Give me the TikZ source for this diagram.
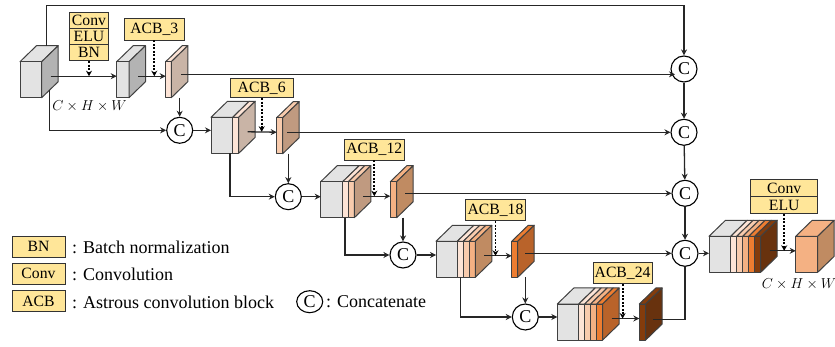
\documentclass[tikz,border=0pt]{standalone}
\usepackage{fontspec}
\setmainfont{Liberation Serif}
\usetikzlibrary{arrows.meta,shapes.geometric}
\definecolor{tagfill}{RGB}{255,230,153}
\definecolor{frontgrey}{RGB}{227,227,227}
\definecolor{sidegrey}{RGB}{179,179,179}
\definecolor{peachA}{RGB}{253,228,214}
\definecolor{peachB}{RGB}{248,203,173}
\definecolor{peachC}{RGB}{244,177,131}
\definecolor{orangeD}{RGB}{237,125,49}
\definecolor{brownE}{RGB}{132,60,12}
\definecolor{sideA}{RGB}{201,180,166}
\definecolor{sideB}{RGB}{192,154,128}
\definecolor{sideC}{RGB}{192,139,98}
\definecolor{sideD}{RGB}{185,99,42}
\definecolor{sideE}{RGB}{104,50,14}
\tikzset{
  link/.style={draw=black!85,line width=1.3pt,-{Stealth[length=6pt,width=6pt]}},
  plainlink/.style={draw=black!85,line width=1.3pt},
  dotlink/.style={draw=black,line width=1.9pt,dash pattern={on 1.9pt off 1.6pt},-{Stealth[length=5.5pt,width=6pt]}},
  cubeedge/.style={draw=black!75,line width=1pt,line join=round},
  tag/.style={draw=black!80,line width=0.9pt,fill=tagfill,inner sep=0pt,font=\fontsize{15.7}{15.7}\selectfont},
  concat/.style={draw=black,line width=1.1pt,fill=white,inner sep=0pt,font=\fontsize{18}{18}\selectfont},
  legendtext/.style={anchor=west,inner sep=0pt,font=\fontsize{18}{18}\selectfont},
  dimtext/.style={inner sep=0pt,font=\fontsize{14}{14}\selectfont},
}
% #1 name, #2 top of front face, #3 side colour, #4 left edge, #5 strips x1/colour
\newcommand{\layerblock}[5]{
  \xdef\lastx{#4}
  \foreach \xb/\fc in {#5} {
    \draw[cubeedge,fill=\fc] (\lastx,#2) -- (\lastx+16.5,#2-16) -- (\xb+16.5,#2-16) -- (\xb,#2) -- cycle;
    \draw[cubeedge,fill=\fc] (\lastx,#2) rectangle (\xb,#2+36);
    \xdef\lastx{\xb}
  }
  \draw[cubeedge,fill=#3] (\lastx,#2) -- (\lastx+16.5,#2-16) -- (\lastx+16.5,#2+20) -- (\lastx,#2+36) -- cycle;
  \coordinate (#1 in) at (#4,#2+14.5);
  \coordinate (#1 out) at (\lastx+9,#2+14.5);
  \coordinate (#1 bot) at (\lastx,#2+36);
}
\begin{document}
\begin{tikzpicture}[x=1pt,y=1pt,yscale=-1,xscale=1]
\useasboundingbox (0,0) rectangle (835,347);

% Blocks
\layerblock{inp}{61.7}{sidegrey}{20}{41.7/frontgrey}
\layerblock{enc}{61.7}{sidegrey}{116.7}{129/frontgrey}
\layerblock{acbA}{61.7}{sideA}{165.7}{171.3/peachA}
\layerblock{catA}{117.3}{sideA}{211}{232.7/frontgrey,238.7/peachA}
\layerblock{acbB}{117.7}{sideB}{276.7}{282.7/peachB}
\layerblock{catB}{181.7}{sideB}{320.7}{342.7/frontgrey,348.3/peachA,354.3/peachB}
\layerblock{acbC}{181.7}{sideC}{390.3}{396.7/peachC}
\layerblock{catC}{241.3}{sideC}{436}{457.3/frontgrey,463.3/peachA,469.3/peachB,475.3/peachC}
\layerblock{acbD}{241.3}{sideD}{511.7}{517.7/orangeD}
\layerblock{catD}{304}{sideD}{557.3}{578.7/frontgrey,584.7/peachA,590.7/peachB,596.7/peachC,602.7/orangeD}
\layerblock{acbE}{304}{sideE}{639.3}{645.7/brownE}
\layerblock{catE}{236.3}{sideE}{709}{730.7/frontgrey,736.7/peachA,742.7/peachB,748.7/peachC,754.7/orangeD,760.7/brownE}
\layerblock{outp}{236.3}{sideC}{795.7}{817.7/peachC}

% Concatenate nodes
\foreach \cname/\cx/\cy in {cA/179.7/130.3,cB/288.3/196.7,cC/403/255,cD/525.3/317,rA/684/69,rB/684/132.3,rC/685/193.3,rD/685/253.3}
  \node[concat,circle,minimum size=26pt] (\cname) at (\cx,\cy) {C};

% Free ends
\coordinate (inp top) at (46.7,46);
\coordinate (top turn) at (46.7,5.5);
\coordinate (inp tap) at (49.3,90);
\coordinate (catA tap) at (230,153.3);
\coordinate (catB tap) at (345,217.7);
\coordinate (catC tap) at (460.7,277.3);
\coordinate (acbA rt) at (181,74.3);
\coordinate (acbA end) at (675,74.3);
\coordinate (acbB rt) at (287.3,132.3);
\coordinate (acbC rt) at (405,193.3);
\coordinate (acbD rt) at (525,253.3);
\coordinate (acbE rt) at (653.3,319.3);

% Skip lines
\draw[link] (inp top) -- (top turn) -| (rA.north);
\draw[link] (inp tap) |- (cA);
\draw[link] (catA tap) |- (cB);
\draw[link] (catB tap) |- (cC);
\draw[link] (catC tap) |- (cD);

% Main path
\draw[link] (inp out) -- (enc in);
\draw[link] (enc out) -- (acbA in);
\draw[link] (cA) -- (cA -| catA in);
\draw[link] (catA out) -- (acbB in);
\draw[link] (cB) -- (cB -| catB in);
\draw[link] (catB out) -- (acbC in);
\draw[link] (cC) -- (cC -| catC in);
\draw[link] (catC out) -- (acbD in);
\draw[link] (cD) -- (cD -| catD in);
\draw[link] (catD out) -- (acbE in);
\draw[link] (rD) -- (rD -| catE in);
\draw[link] (catE out) -- (outp in);

% Drops into concatenate
\draw[link] (cA |- acbA bot) -- (cA);
\draw[link] (cB |- acbB bot) -- (cB);
\draw[link] (cC |- acbC bot) -- (cC);
\draw[link] (cD |- acbD bot) -- (cD);

% Into the right column
\draw[link] (acbA rt) -- (acbA end);
\draw[link] (acbB rt) -- (rB);
\draw[link] (acbC rt) -- (rC);
\draw[link] (acbD rt) -- (rD);
\draw[link] (rA) -- (rB);
\draw[link] (rB) -- (rC);
\draw[link] (rC) -- (rD);
\draw[plainlink] (acbE rt) -| (rD.south);

% Tags
\node[tag,minimum width=60pt,minimum height=21.7pt] (tagA) at (154.3,29.2) {ACB\_3};
\node[tag,minimum width=63.3pt,minimum height=19pt] (tagB) at (261.7,88.2) {ACB\_6};
\node[tag,minimum width=59.3pt,minimum height=21pt] (tagC) at (374.3,149.5) {ACB\_12};
\node[tag,minimum width=60.4pt,minimum height=21.4pt] (tagD) at (495.5,210) {ACB\_18};
\node[tag,minimum width=59.3pt,minimum height=21.3pt] (tagE) at (622.6,273.3) {ACB\_24};
\node[tag,minimum width=38.6pt,minimum height=16pt] (stackA) at (89,20.7) {Conv};
\node[tag,minimum width=38.6pt,minimum height=15.6pt] (stackB) at (89,36.5) {ELU};
\node[tag,minimum width=38.6pt,minimum height=16.4pt] (stackC) at (89,52.5) {BN};
\node[tag,minimum width=67pt,minimum height=17pt] (stackD) at (784.2,188.2) {Conv};
\node[tag,minimum width=67pt,minimum height=17.3pt] (stackE) at (784.2,205.3) {ELU};

% Dotted feeds
\draw[dotlink] (stackC.south) -- (stackC |- inp out);
\draw[dotlink] (tagA.south) -- (tagA |- enc out);
\draw[dotlink] (tagB.south) -- (tagB |- catA out);
\draw[dotlink] (tagC.south) -- (tagC |- catB out);
\draw[dotlink] (tagD.south) -- (tagD |- catC out);
\draw[dotlink] (tagE.south) -- (tagE |- catD out);
\draw[dotlink] (stackE.south) -- (stackE |- catE out);

% Sizes
\node[dimtext] (dimin) at (89.5,106.5) {$C\times H\times W$};
\node[dimtext] (dimout) at (799,284) {$C\times H\times W$};

% Legend
\node[tag,minimum width=53pt,minimum height=21.3pt] (keyA) at (38.5,246.7) {BN};
\node[tag,minimum width=53pt,minimum height=21pt] (keyB) at (38.5,273.8) {Conv};
\node[tag,minimum width=53pt,minimum height=21pt] (keyC) at (38.5,301.2) {ACB};
\node[legendtext] (textA) at (72,247) {: Batch normalization};
\node[legendtext] (textB) at (72,274.5) {: Convolution};
\node[legendtext] (textC) at (72,302) {: Astrous convolution block};
\node[concat,ellipse,minimum width=26pt,minimum height=22pt] (keyD) at (309.7,301.7) {C};
\node[legendtext] (textD) at (326,302) {: Concatenate};
\end{tikzpicture}
\end{document}
